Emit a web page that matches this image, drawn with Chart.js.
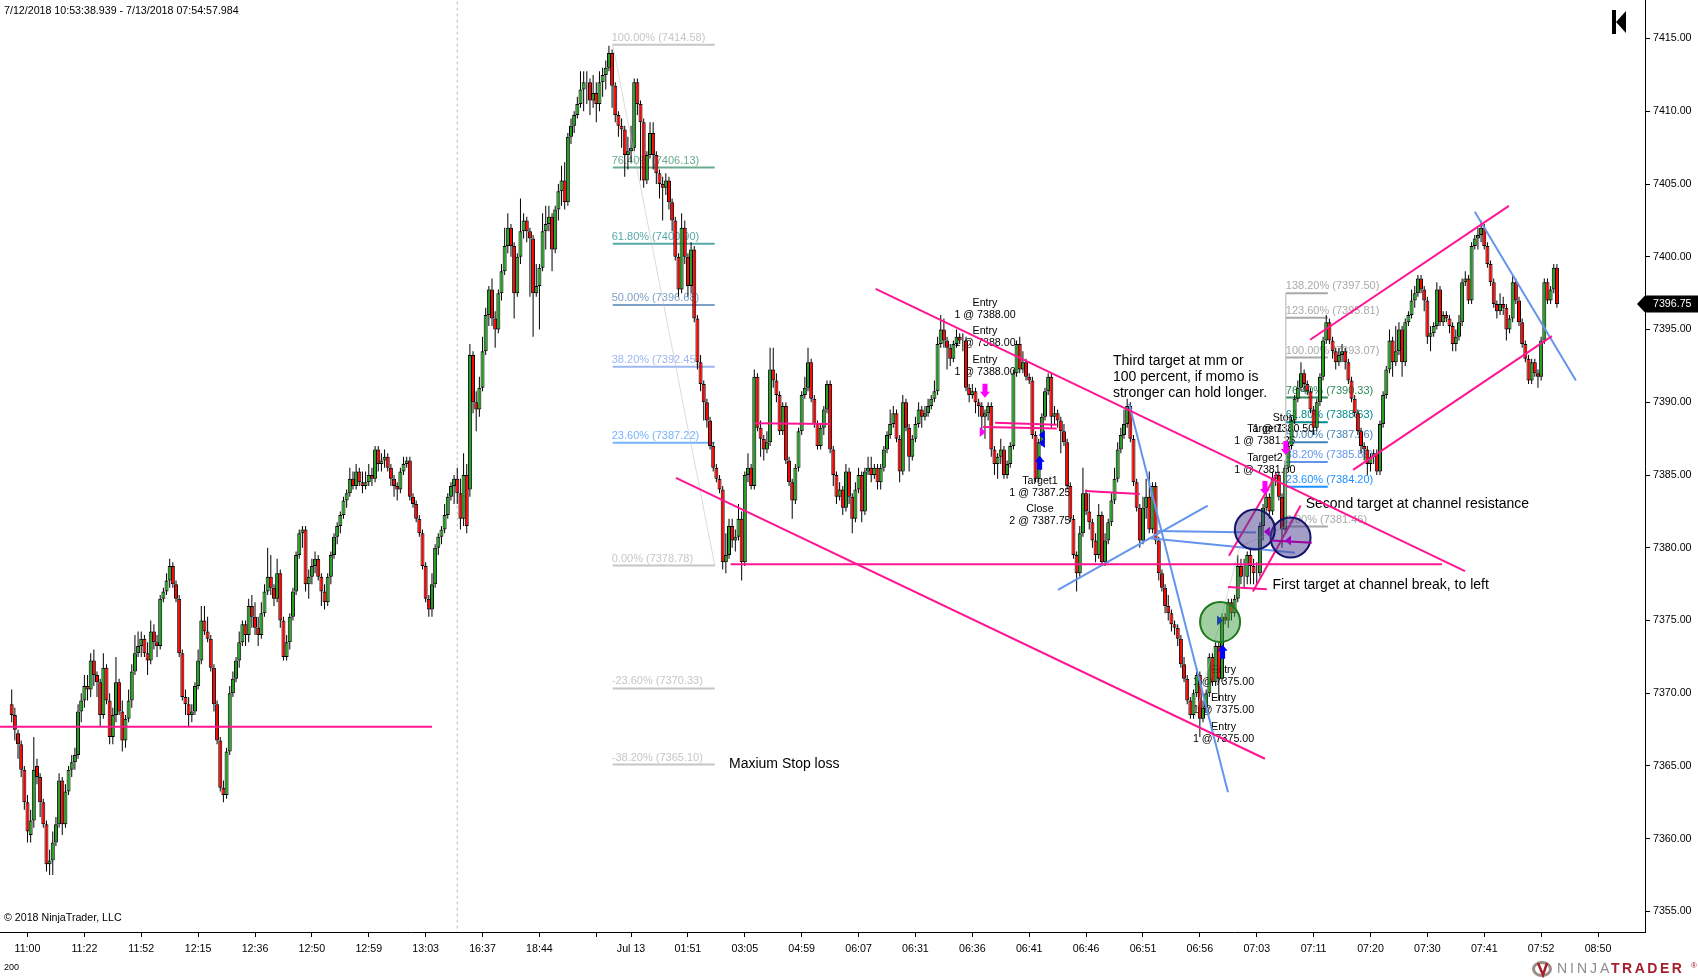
<!DOCTYPE html>
<html>
<head>
<meta charset="utf-8">
<title>NQ 200 tick</title>
<script src="https://cdn.jsdelivr.net/npm/chart.js@4"></script>
<style>
  html, body { margin: 0; padding: 0; background: #fff; overflow: hidden; }
  canvas { display: block; }
</style>
</head>
<body>
<canvas id="chart" width="1698" height="978"></canvas>
<script>
/* 200 tick candles, 7/12 - 7/13/2018 (10 bars per row) */
const barOpen = [
  7369.25,7368.5,7367.25,7366.5,7364.75,7362.5,7360.25,7361.25,7365,7364.25,
  7362.5,7361,7358.25,7358.5,7359.75,7361,7364,7361,7363.25,7364.75,
  7365.25,7365.75,7368.75,7369.5,7370.5,7370.25,7372.25,7371.25,7370.75,7368.5,
  7371.75,7369.5,7367,7368.5,7370.75,7368.75,7366.75,7368.25,7369.5,7371.5,
  7372.75,7373.25,7373.75,7372.75,7372.25,7374.25,7373.5,7373.25,7376.5,7377,
  7377.75,7378.75,7377.5,7376.5,7372.75,7369.75,7369.25,7368.5,7368.75,7370.5,
  7372.25,7375,7374.25,7373.75,7371.75,7369.25,7366.75,7363.5,7363,7366,
  7370,7371,7372.25,7373.5,7374.75,7374,7376,7375.25,7374.5,7374,
  7375.5,7377,7378,7377.25,7376.5,7378.25,7375,7372.5,7373.5,7375.25,
  7377,7379.5,7381,7381.25,7377.5,7378,7378.75,7379.25,7378,7377,
  7376.25,7378,7379.5,7380.75,7381.5,7382.25,7383.25,7383.75,7384.75,7384.25,
  7385.25,7384.5,7384.25,7384.5,7385,7384.75,7386.75,7385.75,7386,7386.25,
  7385.5,7384.75,7384.25,7384,7385.25,7385.75,7386,7383.5,7383,7382,
  7381,7378.75,7376.5,7375.75,7377.5,7380,7380.75,7381.25,7382.25,7383.5,
  7384.25,7384.75,7383.75,7382,7385,7384,7393.25,7390,7389.5,7391,
  7393.5,7396,7397.75,7395.75,7395,7397.5,7399,7400.75,7402,7400.75,
  7397.5,7400,7401.75,7402.5,7401.75,7401.25,7397.5,7398,7399.25,7401.75,
  7402.25,7402.75,7400.5,7403.25,7404.5,7405.25,7403.75,7408.25,7409,7409.75,
  7410.5,7411.5,7412,7412,7410.75,7411.25,7410.5,7412,7412.5,7413,
  7414,7411.75,7409.75,7409,7408.75,7407,7407.25,7407.5,7412,7410.5,
  7409.25,7405.25,7407,7408.5,7407,7405.75,7405,7404.75,7405.25,7403.75,
  7402.5,7400,7397.75,7402,7400,7398,7400.5,7395.75,7392.75,7391.25,
  7390,7388.75,7387,7385.5,7384.75,7384,7379,7379.5,7381.5,7380.5,
  7380.75,7382,7379,7385,7385.5,7384.25,7391.75,7388.25,7387.5,7386.75,
  7387.25,7392.25,7391.5,7390.5,7388,7389.75,7386,7384.5,7383.25,7385.5,
  7388,7390.5,7391,7392.75,7390.25,7388.5,7387,7388.25,7389.5,7391.25,
  7386.75,7385,7383.5,7384,7382.75,7385.25,7383.5,7382,7384,7385,
  7382.5,7385.25,7385.5,7385,7385.5,7384.5,7385.5,7386.75,7387.75,7388.5,
  7389.25,7387.5,7385.25,7390,7388.25,7386.25,7387.5,7388.5,7389.5,7389,
  7389.25,7389.75,7390.25,7390.75,7394,7395,7394.25,7393.75,7393,7394,
  7394.5,7394.25,7394.25,7391,7390.5,7390.75,7390,7389.75,7389,7389.25,
  7389.75,7386.75,7385.75,7386.25,7386.75,7385,7385.75,7387,7392,7394,
  7392.25,7392.75,7391.75,7391.5,7387.75,7384.75,7387.25,7389,7390.75,7391.75,
  7389,7389.25,7388.75,7388,7387.25,7384.25,7382,7379.5,7378.25,7381,
  7383.75,7382.5,7381.75,7380.5,7379.5,7382.25,7379,7380.5,7381.75,7383.25,
  7384.75,7386.75,7387.75,7388.5,7389.75,7387.5,7384.5,7382.75,7380.5,7382.75,
  7383.5,7381.25,7384.25,7380.5,7378.25,7377.25,7376,7375.5,7374.75,7374.5,
  7373.75,7372,7371,7369.5,7368.5,7370,7371.25,7368.25,7369,7370,
  7372.5,7370.75,7373.25,7371,7375.25,7375,7376.25,7375.5,7376.5,7378.75,
  7378,7378,7379.5,7378.75,7378.25,7378.25,7381.5,7382.75,7383.5,7382.5,
  7384.75,7385,7383.5,7381.25,7385.5,7387,7388.75,7390.25,7391,7392,
  7391.25,7390.75,7389.5,7388.25,7390,7391.75,7394.25,7395.5,7394.25,7393.5,
  7392.75,7393.25,7393.5,7392.75,7391.5,7390.25,7389.25,7388,7387,7386.75,
  7385.75,7386.25,7386.5,7385.25,7388.5,7390.5,7392.25,7394.25,7392.75,7393.5,
  7395,7392.75,7395.5,7396,7397,7397.5,7398.5,7397.75,7397,7394.5,
  7394.75,7395.25,7397.75,7395.5,7396,7395.75,7395.25,7394,7394.5,7395.5,
  7398.25,7398.5,7397,7400.75,7401.25,7401.5,7402,7400.75,7399.5,7398.25,
  7396.75,7396.25,7396.75,7396.5,7395,7395.75,7398.25,7397,7395.5,7394,
  7393,7391.5,7392.75,7392,7391.75,7394.25,7398.25,7397,7397.75,7399.25
];
const barHigh = [
  7370.25,7369,7367.5,7366.75,7365,7363,7362,7367,7365.5,7364.5,
  7362.75,7361.25,7359.25,7360.5,7361.5,7364.5,7364.25,7363.75,7365,7365.75,
  7366.25,7369.25,7370,7371.25,7371.25,7372.75,7373,7371.5,7371,7372.75,
  7372,7370,7369,7372.5,7371,7369.5,7368.5,7370.25,7372,7374,
  7374.25,7374.25,7374,7373.5,7375,7374.75,7374,7376.75,7377.25,7378.25,
  7379.25,7379,7377.75,7376.75,7373,7370.25,7369.75,7369.25,7370.75,7373,
  7376,7376,7375.25,7374,7372,7369.5,7367,7364,7366.25,7370.5,
  7371.5,7372.5,7374.25,7375,7375,7376.5,7376.75,7376.25,7375.25,7376.25,
  7377.5,7380,7379.5,7377.5,7379.25,7378.5,7375.25,7374,7375.5,7377.25,
  7379.75,7381.25,7381.5,7381.5,7378.5,7379.25,7379.75,7379.5,7378.25,7377.5,
  7378.25,7379.75,7381,7381.75,7382.5,7383.5,7384,7385.5,7385.25,7385.75,
  7385.5,7385.25,7385.25,7385.75,7385.5,7387,7387,7386.5,7386.75,7386.5,
  7385.75,7385,7384.5,7385.5,7386.25,7386.25,7386.25,7383.75,7383.25,7382.25,
  7381.25,7379,7376.75,7378.25,7380.25,7381,7381.5,7383,7383.75,7384.5,
  7385,7385.5,7384.75,7386.5,7385.75,7394,7393.5,7390.75,7391.75,7394.5,
  7396.5,7398,7398.5,7396.25,7397.75,7399.5,7402,7403,7402.25,7401,
  7400.25,7404,7403,7402.75,7402,7401.5,7399.5,7399.5,7403,7403.5,
  7403.5,7403,7403.5,7405,7406.25,7406.5,7408.5,7409.5,7410,7411,
  7412.75,7412.75,7412.75,7412.25,7412.5,7412,7412.75,7413,7413.5,7414.5,
  7414.25,7412,7410,7409.5,7409,7408.25,7409,7412.25,7412.25,7410.75,
  7409.5,7407.25,7409.25,7409.25,7407.25,7406,7405.5,7405.75,7405.5,7404,
  7402.75,7400.25,7403,7402.5,7400.25,7401,7400.75,7396,7393.25,7391.5,
  7390.25,7389,7387.25,7385.75,7385,7384.25,7381,7382,7382,7381.25,
  7383,7382.5,7385.25,7386.5,7385.75,7392.25,7392,7388.75,7387.75,7388,
  7393.75,7393.75,7392,7390.75,7390,7390,7386.25,7384.75,7385.75,7388.25,
  7390.75,7391.75,7393.75,7393,7390.5,7388.75,7388.5,7389.75,7391.5,7391.5,
  7387,7385.25,7384.5,7384.25,7385.75,7385.5,7383.75,7384.5,7385.5,7385.25,
  7385.5,7386.25,7386.25,7385.75,7385.75,7385.75,7387,7388,7389.5,7389.75,
  7389.5,7387.75,7390.5,7390.25,7388.5,7387.75,7389,7390,7389.75,7389.75,
  7390.25,7390.5,7391.5,7394.5,7396,7395.75,7394.5,7394,7394.25,7395,
  7394.75,7394.75,7394.5,7391.25,7391.25,7391,7390.25,7390,7389.5,7390,
  7390,7387,7386.5,7387.5,7387,7386,7387.25,7392.25,7394.25,7394.5,
  7393.5,7393,7392,7391.75,7388,7387.5,7389.25,7391,7392,7392,
  7389.75,7389.5,7389,7388.5,7387.5,7384.5,7382.25,7379.75,7381.5,7385.5,
  7384,7383.75,7382,7381,7383,7382.5,7381,7382,7383.75,7385.5,
  7387.25,7388.25,7389.5,7390.25,7390,7387.75,7384.75,7383,7383.5,7384.75,
  7385.25,7384.5,7384.5,7380.75,7378.5,7377.5,7376.75,7375.75,7375,7374.75,
  7374,7372.5,7371.25,7369.75,7370.25,7371.75,7371.5,7369.5,7370.25,7372.75,
  7372.75,7373.5,7373.5,7375.5,7375.5,7376.5,7376.5,7376.75,7379.5,7379.25,
  7379.25,7379.75,7380,7379.25,7379,7381.75,7383,7384,7383.75,7385.25,
  7385.25,7385.25,7383.75,7386,7387.25,7389,7390.5,7391.5,7392.75,7392.25,
  7391.5,7391,7389.75,7390.25,7392,7394.5,7396,7395.75,7394.5,7393.75,
  7393.75,7394,7393.75,7393,7391.75,7390.5,7389.5,7388.25,7387.25,7387,
  7386.5,7386.75,7386.75,7388.75,7390.75,7392.5,7395,7394.5,7395.25,7395.5,
  7395.25,7395.75,7396.25,7397.75,7398,7398.75,7398.75,7398,7397.25,7395.25,
  7395.5,7398.25,7398,7396.25,7396.25,7396,7395.5,7395,7396,7398.5,
  7399,7398.75,7401,7401.5,7402,7402.5,7402.25,7401,7399.75,7398.5,
  7397,7397.5,7397.25,7396.75,7396,7398.75,7398.5,7397.25,7395.75,7394.25,
  7393.25,7393,7393,7392.25,7394.5,7398.5,7398.5,7398,7399.5,7399.5
];
const barLow = [
  7368,7366.75,7365.5,7364.25,7362,7359.75,7359.75,7360.75,7363.75,7361.5,
  7360.75,7357.75,7357.5,7357.5,7359.5,7360.75,7360.25,7360.75,7363,7364.25,
  7364.75,7365.5,7368,7369,7369.5,7369.75,7370.5,7369.75,7367.75,7368.25,
  7369.25,7366.5,7366.5,7368,7368.5,7366,7366.25,7368,7369,7371.25,
  7372.5,7372.5,7372.5,7371.25,7372,7373,7372.5,7373,7376.25,7376.75,
  7377.25,7377.25,7376.25,7372.5,7369.5,7368.5,7367.75,7368,7368.5,7370.25,
  7372,7374,7373.5,7371.5,7368.75,7366.5,7363.25,7362.5,7362.75,7365.75,
  7369.75,7370.75,7371.75,7373.25,7373.25,7373.5,7374.5,7374,7373.25,7373.75,
  7375.25,7376.75,7376.75,7376,7376.25,7374.5,7372.25,7372.25,7373,7375,
  7376.75,7379.25,7380,7377,7376.5,7377.5,7378.25,7377.75,7376,7375.75,
  7376,7377.5,7379.25,7380.25,7381,7382,7382.75,7383.5,7384,7384,
  7384.25,7383.75,7384,7384.25,7384.25,7384.5,7385.25,7385.25,7385.5,7385.25,
  7384.25,7383.5,7383.25,7383.75,7385,7385.5,7383.25,7382.75,7381.75,7380.75,
  7378.5,7376.25,7375.25,7375.25,7377.25,7379.5,7380.25,7381,7382,7383.25,
  7383,7383,7381.25,7381.5,7381,7383.5,7389.25,7388,7389,7390.75,
  7393.25,7395.25,7395.25,7393.75,7394.75,7397,7398.75,7400.25,7400,7395.75,
  7397.25,7399.5,7401.25,7401,7397.25,7394.5,7397.25,7395,7399,7400.5,
  7401.75,7399,7400.25,7402.5,7403.5,7403.25,7403.5,7407.75,7408.5,7409.5,
  7410.25,7410,7410.5,7409.75,7410.25,7409.25,7410,7411,7411.5,7412.75,
  7410.25,7409.25,7408.25,7407.5,7405.5,7406,7406.5,7407.25,7409.75,7405.25,
  7404.75,7405,7406.75,7406,7405,7404,7402.5,7404.25,7403.25,7401.75,
  7399.75,7397.25,7397.5,7399.5,7397.25,7397.5,7395.5,7392.25,7390.75,7388.75,
  7388.25,7386.75,7385.25,7384.5,7383.75,7378.5,7378.25,7379.25,7380,7379.75,
  7380.5,7377.75,7378.75,7384.5,7384,7384,7388,7386.25,7386,7386.5,
  7387,7391,7390,7387.75,7387.75,7385.75,7384.25,7382,7383,7385.25,
  7387.75,7390.25,7390.75,7390,7388.25,7386.75,7386.75,7387.75,7389.25,7386.5,
  7384.25,7383,7383.25,7382.25,7382.5,7383,7381,7381.75,7383.75,7381.75,
  7382.25,7385,7384.5,7384.75,7384,7384,7385.25,7386.5,7387.5,7388.25,
  7387.25,7384.5,7385,7388,7385.25,7386,7387.25,7388.25,7388.25,7388.75,
  7389,7389.5,7390,7390.5,7393.75,7393.75,7392.25,7392.5,7392.75,7393.75,
  7394,7393.5,7390.75,7390,7390.25,7389.25,7389,7387.75,7387.5,7388.75,
  7386.25,7385,7384.75,7385.75,7384.75,7384.75,7385.5,7386.75,7391.75,7392,
  7392,7391.5,7391.25,7387.5,7384.5,7384.5,7387,7388.75,7390.5,7388.25,
  7388.5,7388.25,7386.5,7387,7384,7381.75,7379.25,7377,7378,7380.75,
  7382.25,7381.25,7380,7379,7379.25,7378.75,7378.75,7380.25,7381.5,7383,
  7384.5,7386.5,7387.5,7388.25,7387.25,7384.25,7382.5,7380,7380.25,7382,
  7381,7381,7380.25,7377.75,7377,7375.5,7375,7374.25,7374,7373.25,
  7371.75,7370.75,7369.25,7368.25,7368.25,7369.75,7367,7368,7368.75,7369.75,
  7370.5,7370.5,7369.5,7370.75,7374.75,7374.5,7375,7375.25,7376.25,7377.5,
  7377.25,7377.5,7377.5,7377.5,7377.5,7378,7380.5,7382.5,7382,7382.25,
  7384.25,7383.25,7380,7381,7385.25,7386.75,7388.5,7390,7390.75,7390.75,
  7390.5,7389.25,7387.75,7388,7389.75,7391.5,7394,7394,7393,7392.25,
  7392.5,7392.75,7392.25,7391.25,7390,7389,7387.75,7386.5,7386,7385,
  7385.25,7385.75,7385,7385,7388.25,7390.25,7392,7391.75,7392.5,7393.25,
  7391.75,7392.5,7395.25,7395.75,7396.5,7397.25,7397.5,7396.25,7394,7393.5,
  7394.5,7395,7395.25,7395.25,7395.5,7394.75,7393.5,7393.5,7394.25,7395.25,
  7398,7396.75,7396.75,7400.5,7400.5,7401,7400.5,7399.25,7398,7396.5,
  7395.75,7396,7396,7394.25,7394.75,7395.5,7396.75,7395.25,7393.75,7392.75,
  7391.25,7391.25,7391.75,7391,7391.5,7394,7396.75,7396.75,7397.5,7396.5
];
const barClose = [
  7368.5,7367.5,7366.5,7364.75,7362.5,7360.5,7361.25,7364.75,7364.25,7362.5,
  7361,7358.25,7358.5,7359.75,7361,7364,7361,7363.25,7364.75,7365.25,
  7365.75,7368.75,7369.5,7370.5,7370.25,7372.25,7371.25,7370.75,7368.5,7371.75,
  7369.5,7367,7368.5,7370.75,7368.75,7366.75,7368.25,7369.5,7371.5,7372.75,
  7373.25,7373.75,7372.75,7372.25,7374.25,7373.5,7373.25,7376.5,7377,7377.75,
  7378.75,7377.5,7376.5,7372.75,7369.75,7369.25,7368.5,7368.75,7370.5,7372.25,
  7375,7374.25,7373.75,7371.75,7369.25,7366.75,7363.5,7363,7366,7370,
  7371,7372.25,7373.5,7374.75,7374,7376,7375.25,7374.5,7374,7375.5,
  7377,7378,7377.25,7376.5,7378.25,7375,7372.5,7373.5,7375.25,7377,
  7379.5,7381,7381.25,7377.5,7378,7378.75,7379.25,7378,7377,7376.25,
  7378,7379.5,7380.75,7381.5,7382.25,7383.25,7383.75,7384.75,7384.25,7385.25,
  7384.5,7384.25,7384.5,7385,7384.75,7386.75,7385.75,7386,7386.25,7385.5,
  7384.75,7384.25,7384,7385.25,7385.75,7386,7383.5,7383,7382,7381,
  7378.75,7376.5,7375.75,7377.5,7380,7380.75,7381.25,7382.25,7383.5,7384.25,
  7384.75,7383.75,7382,7385,7381.5,7393.25,7390,7389.5,7391,7393.5,
  7396,7397.75,7395.75,7395,7397.5,7399,7400.75,7402,7400.75,7397.5,
  7400,7401.75,7402.5,7401.75,7401.25,7397.5,7398,7399.25,7401.75,7402.25,
  7402.75,7400.5,7403.25,7404.5,7405.25,7403.75,7408.25,7409,7409.75,7410.5,
  7411.5,7412,7412,7410.75,7411.25,7410.5,7412,7412.5,7413,7414,
  7411.75,7409.75,7409,7408.75,7407,7407.25,7407.5,7412,7410.5,7409.25,
  7405.25,7407,7408.5,7407,7405.75,7405,7404.75,7405.25,7403.75,7402.5,
  7400,7397.75,7402,7400,7398,7400.5,7395.75,7392.75,7391.25,7390,
  7388.75,7387,7385.5,7384.75,7384,7379,7379.5,7381.5,7380.5,7380.75,
  7382,7379,7385,7385.5,7384.25,7391.75,7388.25,7387.5,7386.75,7387.25,
  7392.25,7391.5,7390.5,7388,7389.75,7386,7384.5,7383.25,7385.5,7388,
  7390.5,7391,7392.75,7390.25,7388.5,7387,7388.25,7389.5,7391.25,7386.75,
  7385,7383.5,7384,7382.75,7385.25,7383.5,7382,7384,7385,7382.5,
  7385.25,7385.5,7385,7385.5,7384.5,7385.5,7386.75,7387.75,7388.5,7389.25,
  7387.5,7385.25,7390,7388.25,7386.25,7387.5,7388.5,7389.5,7389,7389.25,
  7389.75,7390.25,7390.75,7394,7395,7394.25,7393.75,7393,7394,7394.5,
  7394.25,7394.25,7391,7390.5,7390.75,7390,7389.75,7389,7389.25,7389.75,
  7386.75,7385.75,7386.25,7386.75,7385,7385.75,7387,7392,7394,7392.25,
  7392.75,7391.75,7391.5,7387.75,7384.75,7387.25,7389,7390.75,7391.75,7389,
  7389.25,7388.75,7388,7387.25,7384.25,7382,7379.5,7378.25,7381,7383.75,
  7382.5,7381.75,7380.5,7379.5,7382.25,7379,7380.5,7381.75,7383.25,7384.75,
  7386.75,7387.75,7388.5,7389.75,7387.5,7384.5,7382.75,7380.5,7382.75,7383.5,
  7381.25,7384.25,7380.5,7378.25,7377.25,7376,7375.5,7374.75,7374.5,7373.75,
  7372,7371,7369.5,7368.5,7370,7371.25,7368.25,7369,7370,7372.5,
  7370.75,7373.25,7371,7375.25,7375,7376.25,7375.5,7376.5,7378.75,7378,
  7378,7379.5,7378.75,7378.25,7378.25,7381.5,7382.75,7383.5,7382.5,7384.75,
  7385,7383.5,7381.25,7385.5,7387,7388.75,7390.25,7391,7392,7391.25,
  7390.75,7389.5,7388.25,7390,7391.75,7394.25,7395.5,7394.25,7393.5,7392.75,
  7393.25,7393.5,7392.75,7391.5,7390.25,7389.25,7388,7387,7386.75,7385.75,
  7386.25,7386.5,7385.25,7388.5,7390.5,7392.25,7394.25,7392.75,7393.5,7395,
  7392.75,7395.5,7396,7397,7397.5,7398.5,7397.75,7397,7394.5,7394.75,
  7395.25,7397.75,7395.5,7396,7395.75,7395.25,7394,7394.5,7395.5,7398.25,
  7398.5,7397,7400.75,7401.25,7401.5,7402,7400.75,7399.5,7398.25,7396.75,
  7396.25,7396.75,7396.5,7395,7395.75,7398.25,7397,7395.5,7394,7393,
  7391.5,7392.75,7392,7391.75,7394.25,7398.25,7397,7397.75,7399.25,7396.75
];

// axes
const priceTicks = [7415,7410,7405,7400,7395,7390,7385,7380,7375,7370,7365,7360,7355];
const timeTickBars = [5,23,41,59,77,95,113,131,149,167,185,196,214,232,250,268,286,304,322,340,358,376,394,412,430,448,466,484,502];
const timeTickLabels = ['11:00','11:22','11:52','12:15','12:36','12:50','12:59','13:03','16:37','18:44','','Jul 13','01:51','03:05','04:59','06:07','06:31','06:36','06:41','06:46','06:51','06:56','07:03','07:11','07:20','07:30','07:41','07:52','08:50'];
const lastPrice = 7396.75;

// fibonacci drawings
const fibAPct = ['100.00%','76.40%','61.80%','50.00%','38.20%','23.60%','0.00%','-23.60%','-38.20%'];
const fibAValues = [7414.58,7406.13,7400.90,7396.68,7392.45,7387.22,7378.78,7370.33,7365.10];
const fibAColors = ['#c6c6c6','#6aab8c','#56a9a9','#7da0c5','#9db7f2','#74b3ff','#c6c6c6','#c6c6c6','#c6c6c6'];
const fibARange = [190.2,222.5];
const fibBPct = ['138.20%','123.60%','100.00%','76.40%','61.80%','50.00%','38.20%','23.60%','0.00%'];
const fibBValues = [7397.50,7395.81,7393.07,7390.33,7388.63,7387.26,7385.89,7384.20,7381.46];
const fibBColors = ['#a9a9a9','#a9a9a9','#a9a9a9','#2e8b57','#008b8b','#4682b4','#6495ed','#1e90ff','#a9a9a9'];
const fibBRange = [403.2,416.5];

// drawn lines: [bar, price, bar, price]
const pinkLines = [
  [-3.7,7367.7,133,7367.7],[273.4,7397.8,459.9,7378.4],[210.2,7384.8,396.6,7365.5],
  [227.5,7378.86,452.6,7378.86],[235.2,7388.55,259,7388.5],[307.4,7388.3,330.7,7388.2],
  [311.2,7388.6,330.7,7388.45],[339.7,7383.9,357,7383.7],[385.2,7379.45,400.4,7385.1],
  [392.8,7377,407.9,7382.9],[384.9,7377.3,397.2,7377.15],[424.5,7385.35,487.4,7394.55],
  [410.9,7394.3,473.8,7403.5]
];
const blueLines = [
  [463,7403.1,495,7391.5],[353.6,7389.9,384.9,7363.2],[331.1,7377.1,378.5,7382.9],
  [362.4,7381.15,393.8,7381.05],[360.2,7380.65,406.1,7379.65]
];
const purpleLines = [[398.7,7380.5,411.4,7380.35]];
const faintLines = [
  [190.2,7414.58,222.5,7378.78],[374.5,7368.4,388.7,7380.1],[388.7,7380.1,403.2,7381.46],
  [403.2,7397.5,403.2,7381.46]
];
const sessionBreakBar = 141;

// circles: bar, price, radius
const circleMarks = [
  { bar: 382.4, price: 7374.9, r: 20, fill: 'rgba(70,160,70,0.5)', line: '#1c7a1c' },
  { bar: 393.4, price: 7381.25, r: 20, fill: 'rgba(72,61,139,0.5)', line: '#14146e' },
  { bar: 404.7, price: 7380.7, r: 20, fill: 'rgba(72,61,139,0.5)', line: '#14146e' }
];

// order arrows
const arrowMarks = [
  ['up',383.2,7372.85,'#0000ff'],['down',396.6,7384.1,'#ff00ff'],['down',403.2,7386.85,'#ff00ff'],
  ['down',308,7390.8,'#ff00ff'],['up',325.3,7385.85,'#0000ff'],
  ['right',307.3,7387.95,'#ff00ff'],['left',326,7387.75,'#0000ff'],['left',326,7387.2,'#0000ff'],
  ['right',382.4,7375,'#1f3fa8'],['left',397.2,7381.1,'#a000c0'],['left',403.9,7380.5,'#a000c0']
];

// trade labels (centered) and notes (left aligned)
const tradeLabels = [
  ['Entry',308,7396.8],['1 @ 7388.00',308,7396],['Entry',308,7394.9],['1 @ 7388.00',308,7394.07],
  ['Entry',308,7392.9],['1 @ 7388.00',308,7392.08],['Target1',325.4,7384.6],['1 @ 7387.25',325.4,7383.76],
  ['Close',325.4,7382.64],['2 @ 7387.75',325.4,7381.84],['Entry',383.5,7371.6],['1 @ 7375.00',383.5,7370.77],
  ['Entry',383.5,7369.67],['1 @ 7375.00',383.5,7368.85],['Entry',383.5,7367.7],['1 @ 7375.00',383.5,7366.86],
  ['Target1',396.6,7388.16],['1 @ 7381.25',396.6,7387.34],['Stop',402.5,7388.92],['1 @ 7380.50',402.5,7388.16],
  ['Target2',396.6,7386.17],['1 @ 7381.50',396.6,7385.34]
];
const noteLabels = [
  ['Maxium Stop loss',227,7365.13],['Third target at mm or',348.5,7392.84],['100 percent, if momo is',348.5,7391.74],
  ['stronger can hold longer.',348.5,7390.64],['Second target at channel resistance',409.5,7383],
  ['First target at channel break, to left',399,7377.44]
];

const FONT = '"Liberation Sans", Arial, sans-serif';
const bars = barClose.map((_, i) => i);
const bodyColors = barClose.map((c, i) => c >= barOpen[i] ? '#20a020' : '#ff0000');

function segmentSets(lines, color, width, order) {
  return lines.map(l => ({
    type: 'line',
    data: [{ x: l[0], y: l[1] }, { x: l[2], y: l[3] }],
    borderColor: color,
    borderWidth: width,
    pointRadius: 0,
    order
  }));
}

function fibSets(values, colors, range) {
  return values.map((v, i) => ({
    type: 'line',
    data: [{ x: range[0], y: v }, { x: range[1], y: v }],
    borderColor: colors[i],
    borderWidth: 2,
    pointRadius: 0,
    order: 6
  }));
}

function drawArrow(ctx, kind, x, y, color) {
  ctx.fillStyle = color;
  ctx.beginPath();
  if (kind === 'up') {
    ctx.moveTo(x, y - 7); ctx.lineTo(x + 5, y - 1); ctx.lineTo(x + 2.5, y - 1); ctx.lineTo(x + 2.5, y + 7);
    ctx.lineTo(x - 2.5, y + 7); ctx.lineTo(x - 2.5, y - 1); ctx.lineTo(x - 5, y - 1);
  } else if (kind === 'down') {
    ctx.moveTo(x, y + 7); ctx.lineTo(x + 5, y + 1); ctx.lineTo(x + 2.5, y + 1); ctx.lineTo(x + 2.5, y - 7);
    ctx.lineTo(x - 2.5, y - 7); ctx.lineTo(x - 2.5, y + 1); ctx.lineTo(x - 5, y + 1);
  } else if (kind === 'left') {
    ctx.moveTo(x - 3, y); ctx.lineTo(x + 3, y - 5); ctx.lineTo(x + 3, y + 5);
  } else {
    ctx.moveTo(x + 3, y); ctx.lineTo(x - 3, y - 5); ctx.lineTo(x - 3, y + 5);
  }
  ctx.closePath();
  ctx.fill();
}

// text that sits behind the candles
const textBehind = {
  id: 'textBehind',
  beforeDatasetsDraw(chart) {
    const { ctx, scales: { x, y } } = chart;
    ctx.save();
    ctx.textBaseline = 'middle';
    ctx.textAlign = 'left';
    ctx.font = '11px ' + FONT;
    fibAPct.forEach((p, i) => {
      ctx.fillStyle = fibAColors[i];
      ctx.fillText(p + ' (' + fibAValues[i].toFixed(2) + ')', x.getPixelForValue(fibARange[0]) - 1, y.getPixelForValue(fibAValues[i]) - 7);
    });
    fibBPct.forEach((p, i) => {
      ctx.fillStyle = fibBColors[i];
      ctx.fillText(p + ' (' + fibBValues[i].toFixed(2) + ')', x.getPixelForValue(fibBRange[0]), y.getPixelForValue(fibBValues[i]) - 7);
    });
    ctx.fillStyle = '#000';
    ctx.textAlign = 'center';
    ctx.font = '10.67px ' + FONT;
    tradeLabels.forEach(t => ctx.fillText(t[0], x.getPixelForValue(t[1]), y.getPixelForValue(t[2])));
    ctx.textAlign = 'left';
    ctx.font = '14px ' + FONT;
    noteLabels.forEach(t => ctx.fillText(t[0], x.getPixelForValue(t[1]), y.getPixelForValue(t[2])));
    ctx.restore();
  }
};

// arrows, price marker, header, footer and logo
const overlay = {
  id: 'overlay',
  afterDraw(chart) {
    const { ctx, scales: { x, y } } = chart;
    ctx.save();
    arrowMarks.forEach(a => drawArrow(ctx, a[0], x.getPixelForValue(a[1]), y.getPixelForValue(a[2]), a[3]));

    ctx.textBaseline = 'middle';
    ctx.textAlign = 'left';
    ctx.fillStyle = '#000';
    ctx.font = '10.67px ' + FONT;
    ctx.fillText('7/12/2018 10:53:38.939 - 7/13/2018 07:54:57.984', 4, 11.5);
    ctx.fillText('\u00a9 2018 NinjaTrader, LLC', 4, 918);
    ctx.font = '9px ' + FONT;
    ctx.fillText('200', 4, 968);

    // last price tag
    const py = y.getPixelForValue(lastPrice);
    ctx.fillStyle = '#000';
    ctx.beginPath();
    ctx.moveTo(1637, py);
    ctx.lineTo(1645, py - 8.5);
    ctx.lineTo(1698, py - 8.5);
    ctx.lineTo(1698, py + 8.5);
    ctx.lineTo(1645, py + 8.5);
    ctx.closePath();
    ctx.fill();
    ctx.fillStyle = '#fff';
    ctx.font = '10.67px ' + FONT;
    ctx.fillText(lastPrice.toFixed(2), 1653, py);

    // skip-to-start button
    ctx.fillStyle = '#000';
    ctx.fillRect(1612, 10, 4, 24);
    ctx.beginPath();
    ctx.moveTo(1616, 22);
    ctx.lineTo(1626, 11);
    ctx.lineTo(1626, 33);
    ctx.closePath();
    ctx.fill();

    // logo
    ctx.strokeStyle = '#9a8d86';
    ctx.lineWidth = 3;
    ctx.beginPath();
    ctx.ellipse(1542, 969, 8.5, 6.5, 0, 0, Math.PI * 2);
    ctx.stroke();
    ctx.strokeStyle = '#a51f2d';
    ctx.lineWidth = 2.5;
    ctx.beginPath();
    ctx.moveTo(1538, 963);
    ctx.lineTo(1543, 975);
    ctx.lineTo(1547, 963);
    ctx.stroke();
    ctx.font = '14px ' + FONT;
    ctx.letterSpacing = '3px';
    ctx.fillStyle = '#8c8c8c';
    ctx.fillText('NINJA', 1557, 969);
    ctx.fillStyle = '#a51f2d';
    ctx.font = 'bold 14px ' + FONT;
    ctx.letterSpacing = '2.5px';
    ctx.fillText('TRADER', 1611, 969);
    ctx.letterSpacing = '0px';
    ctx.font = '8px ' + FONT;
    ctx.fillText('\u00ae', 1691, 966);
    ctx.restore();
  }
};

const datasets = [
  // lower order is drawn on top
  {
    label: 'wick',
    data: bars.map(i => ({ x: i, y: [barLow[i], barHigh[i]] })),
    backgroundColor: '#000',
    barThickness: 1,
    borderWidth: 0,
    inflateAmount: 0,
    order: 5
  },
  {
    label: 'body',
    data: bars.map(i => ({ x: i, y: [barOpen[i], barClose[i]] })),
    backgroundColor: bodyColors,
    borderColor: '#000',
    borderWidth: 1,
    borderSkipped: false,
    barThickness: 4,
    inflateAmount: 0,
    order: 4
  },
  ...fibSets(fibAValues, fibAColors, fibARange),
  ...fibSets(fibBValues, fibBColors, fibBRange),
  ...segmentSets(faintLines, 'rgba(190,190,190,0.55)', 1, 3),
  ...segmentSets(pinkLines, '#ff1493', 2, 2),
  ...segmentSets(blueLines, '#6495ed', 2, 2),
  ...segmentSets(purpleLines, '#a000a0', 2, 1),
  {
    type: 'line',
    data: [{ x: sessionBreakBar, y: 7353 }, { x: sessionBreakBar, y: 7418 }],
    borderColor: '#bdbdbd',
    borderWidth: 1,
    borderDash: [3, 3],
    pointRadius: 0,
    order: 7
  },
  ...circleMarks.map(c => ({
    type: 'line',
    data: [{ x: c.bar, y: c.price }],
    showLine: false,
    pointRadius: c.r,
    pointBackgroundColor: c.fill,
    pointBorderColor: c.line,
    pointBorderWidth: 2,
    order: 1
  }))
];

// the axes hug the canvas edges, no room kept for half tick labels
function noScalePadding(s) {
  s.paddingLeft = 0;
  s.paddingRight = 0;
  s.paddingTop = 0;
  s.paddingBottom = 0;
}

new Chart(document.getElementById('chart'), {
  type: 'bar',
  data: { datasets },
  plugins: [textBehind, overlay],
  options: {
    responsive: false,
    animation: false,
    events: [],
    // big circle points would otherwise push the plot area in
    layout: { padding: 0, autoPadding: false },
    plugins: { legend: { display: false }, tooltip: { enabled: false } },
    datasets: { bar: { grouped: false } },
    scales: {
      x: {
        type: 'linear',
        offset: false,
        min: -3.7,
        max: 516.87,
        border: { color: '#000', width: 1 },
        grid: { drawOnChartArea: false, color: '#000', tickLength: 5, offset: false },
        ticks: {
          autoSkip: false,
          maxRotation: 0,
          color: '#000',
          padding: 6,
          font: { family: FONT, size: 10.67 },
          callback: v => timeTickLabels[timeTickBars.indexOf(v)]
        },
        afterBuildTicks: s => { s.ticks = timeTickBars.map(value => ({ value })); },
        afterFit: s => { s.height = 46; noScalePadding(s); }
      },
      y: {
        type: 'linear',
        position: 'right',
        min: 7353.59,
        max: 7417.65,
        border: { color: '#000', width: 1 },
        grid: { drawOnChartArea: false, color: '#000', tickLength: 5 },
        ticks: {
          color: '#000',
          padding: 3,
          font: { family: FONT, size: 10.67 },
          callback: v => v.toFixed(2)
        },
        afterBuildTicks: s => { s.ticks = priceTicks.map(value => ({ value })); },
        afterFit: s => { s.width = 53; noScalePadding(s); }
      }
    }
  }
});
</script>
</body>
</html>
